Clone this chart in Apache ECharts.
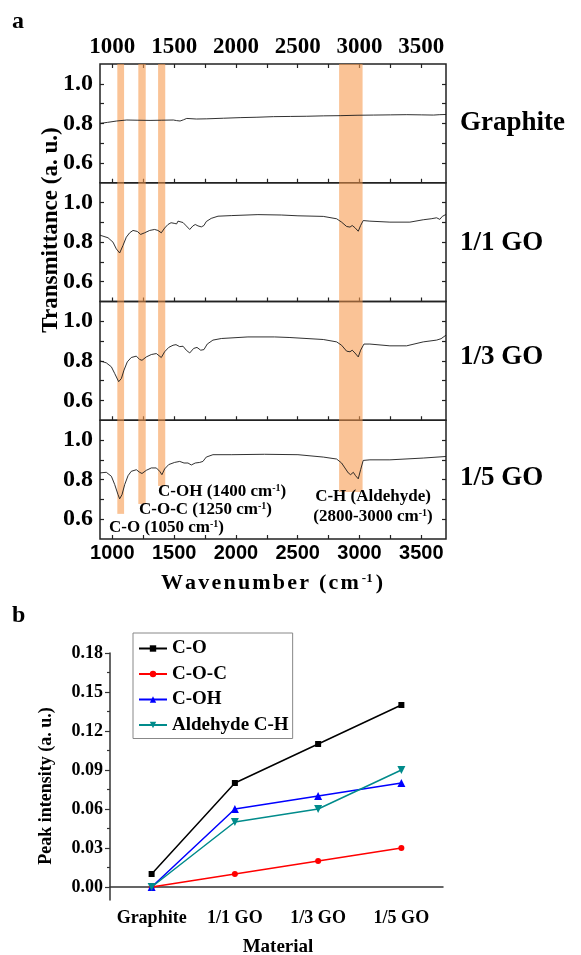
<!DOCTYPE html>
<html>
<head>
<meta charset="utf-8">
<script src="https://cdn.jsdelivr.net/npm/echarts@6/dist/echarts.min.js"></script>
<style>
  html, body { margin: 0; padding: 0; background: #fff; }
  #chart { width: 581px; height: 955px; }
</style>
</head>
<body>
<div id="chart"></div>
<script>
// ---- panel a: FTIR spectra, [wavenumber, transmittance]
const graphiteSpec = [[900,0.800],[960,0.805],[1035,0.812],[1116,0.817],[1200,0.816],[1305,0.815],[1400,0.816],[1494,0.817],[1520,0.814],[1548,0.812],[1575,0.818],[1602,0.825],[1680,0.822],[1764,0.823],[1900,0.826],[2034,0.829],[2170,0.831],[2303,0.834],[2440,0.835],[2573,0.836],[2710,0.838],[2843,0.839],[2980,0.841],[3113,0.842],[3250,0.843],[3383,0.844],[3500,0.843],[3599,0.842],[3650,0.844],[3700,0.845]];
const go11Spec = [[900,0.835],[965,0.822],[1005,0.800],[1032,0.766],[1059,0.745],[1086,0.783],[1113,0.825],[1140,0.847],[1167,0.859],[1202,0.854],[1229,0.839],[1261,0.847],[1302,0.859],[1342,0.864],[1369,0.859],[1396,0.847],[1423,0.871],[1450,0.889],[1475,0.898],[1491,0.904],[1500,0.895],[1510,0.905],[1520,0.892],[1531,0.906],[1545,0.900],[1572,0.899],[1598,0.882],[1626,0.864],[1652,0.882],[1671,0.889],[1693,0.882],[1720,0.877],[1741,0.884],[1760,0.904],[1800,0.920],[1855,0.931],[1962,0.934],[2178,0.939],[2367,0.937],[2502,0.933],[2707,0.930],[2815,0.918],[2855,0.901],[2896,0.879],[2923,0.876],[2941,0.884],[2963,0.873],[2990,0.855],[3009,0.884],[3030,0.909],[3084,0.906],[3246,0.901],[3408,0.901],[3516,0.913],[3580,0.918],[3624,0.923],[3650,0.915],[3670,0.930],[3700,0.940]];
const go13Spec = [[900,0.800],[951,0.790],[992,0.770],[1019,0.736],[1051,0.695],[1073,0.711],[1094,0.753],[1121,0.795],[1153,0.817],[1194,0.824],[1221,0.807],[1240,0.803],[1275,0.820],[1315,0.832],[1356,0.837],[1396,0.817],[1423,0.846],[1456,0.868],[1491,0.879],[1505,0.870],[1515,0.882],[1531,0.885],[1545,0.872],[1560,0.880],[1572,0.874],[1598,0.854],[1626,0.840],[1658,0.863],[1685,0.868],[1715,0.854],[1741,0.857],[1768,0.885],[1814,0.905],[1882,0.913],[2097,0.921],[2313,0.921],[2437,0.918],[2707,0.908],[2815,0.896],[2855,0.879],[2896,0.849],[2923,0.846],[2941,0.854],[2963,0.840],[2990,0.820],[3009,0.854],[3036,0.885],[3084,0.885],[3246,0.876],[3381,0.876],[3516,0.896],[3624,0.905],[3660,0.912],[3700,0.930]];
const go15Spec = [[900,0.834],[951,0.837],[992,0.817],[1019,0.775],[1046,0.724],[1059,0.703],[1078,0.724],[1100,0.775],[1127,0.820],[1153,0.842],[1194,0.850],[1221,0.837],[1240,0.831],[1275,0.847],[1315,0.859],[1356,0.859],[1383,0.842],[1401,0.825],[1423,0.854],[1456,0.876],[1504,0.887],[1545,0.892],[1580,0.884],[1612,0.884],[1639,0.874],[1671,0.884],[1707,0.887],[1733,0.892],[1760,0.914],[1814,0.926],[1962,0.926],[2232,0.928],[2502,0.926],[2707,0.914],[2815,0.904],[2855,0.884],[2882,0.859],[2909,0.834],[2928,0.825],[2950,0.837],[2968,0.820],[2990,0.804],[3009,0.850],[3030,0.897],[3084,0.900],[3246,0.900],[3516,0.909],[3700,0.917]];
const sampleNames = ['Graphite', '1/1 GO', '1/3 GO', '1/5 GO'];

const wnTicks = [1000, 1250, 1500, 1750, 2000, 2250, 2500, 2750, 3000, 3250, 3500];
const wnLabels = [1000, 1500, 2000, 2500, 3000, 3500];
const tTicks = [0.6, 0.7, 0.8, 0.9, 1.0];
const tLabels = [0.6, 0.8, 1.0];

// shaded bands (C-O, C-O-C, C-OH, C-H aldehyde) and where they stop in the last panel
const bandStart = [1040, 1210, 1370, 2835];
const bandEnd = [1095, 1270, 1428, 3025];
const bandBottom = [0.627, 0.677, 0.768, 0.738];

// ---- panel b: peak intensities
const materials = ['Graphite', '1/1 GO', '1/3 GO', '1/5 GO'];
const coPeak = [0.01, 0.08, 0.11, 0.14];
const cocPeak = [0, 0.01, 0.02, 0.03];
const cohPeak = [0, 0.06, 0.07, 0.08];
const choPeak = [0, 0.05, 0.06, 0.09];
const peakTicks = [0, 0.03, 0.06, 0.09, 0.12, 0.15, 0.18];
const peakMinor = [0.015, 0.045, 0.075, 0.105, 0.135, 0.165];

const serif = "'Liberation Serif', 'Times New Roman', serif";
const sans = "'Liberation Sans', Arial, sans-serif";

var myChart = echarts.init(document.getElementById('chart'), null, { renderer: 'canvas' });

const panelTop = 64, panelH = 118.75;
const grids = [], xAxes = [], yAxes = [], series = [];
const specs = [graphiteSpec, go11Spec, go13Spec, go15Spec];

for (let i = 0; i < 4; i++) {
    grids.push({
        left: 100, width: 346, top: panelTop + i * panelH, height: panelH,
        show: true, borderColor: '#222', borderWidth: 1.5, backgroundColor: 'transparent'
    });
    xAxes.push({
        gridIndex: i, type: 'value', min: 900, max: 3700, position: 'bottom',
        axisLine: { show: false },
        axisTick: { inside: true, length: 4, customValues: wnTicks, lineStyle: { color: '#222', width: 1.2 } },
        axisLabel: {
            show: i === 3, customValues: wnLabels, margin: 4, formatter: v => String(v),
            fontFamily: sans, fontWeight: 'bold', fontSize: 20, color: '#000'
        },
        splitLine: { show: false }
    });
    yAxes.push({
        gridIndex: i, type: 'value', min: 0.5, max: 1.1, position: 'left',
        axisLine: { show: false },
        axisTick: { inside: true, length: 4, customValues: tTicks, lineStyle: { color: '#222', width: 1.2 } },
        axisLabel: {
            customValues: tLabels, margin: 7, formatter: v => v.toFixed(1),
            fontFamily: serif, fontWeight: 'bold', fontSize: 24, color: '#000'
        },
        splitLine: { show: false }
    });
    yAxes.push({
        gridIndex: i, type: 'value', min: 0.5, max: 1.1, position: 'right',
        axisLine: { show: false },
        axisTick: { inside: true, length: 4, customValues: tTicks, lineStyle: { color: '#222', width: 1.2 } },
        axisLabel: { show: false },
        splitLine: { show: false }
    });
}
// top wavenumber axis on the first panel
xAxes.push({
    gridIndex: 0, type: 'value', min: 900, max: 3700, position: 'top',
    axisLine: { show: false },
    axisTick: { inside: true, length: 4, customValues: wnTicks, lineStyle: { color: '#222', width: 1.2 } },
    axisLabel: {
        customValues: wnLabels, margin: 5, formatter: v => String(v),
        fontFamily: serif, fontWeight: 'bold', fontSize: 23, color: '#000'
    },
    splitLine: { show: false }
});

for (let i = 0; i < 4; i++) {
    series.push({
        type: 'line', xAxisIndex: i, yAxisIndex: i * 2, data: specs[i],
        showSymbol: false, symbol: 'none', z: 2,
        lineStyle: { color: '#1a1a1a', width: 0.9 }
    });
    const areas = [];
    for (let k = 0; k < bandStart.length; k++) {
        if (i === 3) {
            areas.push([{ xAxis: bandStart[k], yAxis: bandBottom[k] }, { xAxis: bandEnd[k], yAxis: 1.1 }]);
        } else {
            areas.push([{ xAxis: bandStart[k] }, { xAxis: bandEnd[k] }]);
        }
    }
    series.push({
        type: 'line', xAxisIndex: i, yAxisIndex: i * 2, data: [], z: 5, silent: true,
        markArea: {
            silent: true,
            itemStyle: { color: 'rgba(247,155,80,0.6)' },
            data: areas
        }
    });
}

// ---- panel b grid
grids.push({ left: 110, width: 333, top: 653, height: 247 });
xAxes.push({
    gridIndex: 4, type: 'category', data: materials, boundaryGap: true,
    axisLine: { lineStyle: { color: '#333', width: 1.5 } },
    axisTick: { alignWithLabel: true, length: 5, lineStyle: { color: '#333', width: 1.2 } },
    axisLabel: { interval: 0, margin: 9, fontFamily: serif, fontWeight: 'bold', fontSize: 18, color: '#000' }
});
yAxes.push({
    gridIndex: 4, type: 'value', min: -0.01, max: 0.18,
    axisLine: { show: true, lineStyle: { color: '#333', width: 1.5 } },
    axisTick: { show: true, length: 5, customValues: peakTicks, lineStyle: { color: '#333', width: 1.2 } },
    axisLabel: {
        customValues: peakTicks, margin: 7, formatter: v => v.toFixed(2),
        fontFamily: serif, fontWeight: 'bold', fontSize: 18, color: '#000'
    },
    splitLine: { show: false }
});
yAxes.push({
    gridIndex: 4, type: 'value', min: -0.01, max: 0.18, position: 'left',
    axisLine: { show: false },
    axisTick: { show: true, length: 3, customValues: peakMinor, lineStyle: { color: '#333', width: 1.2 } },
    axisLabel: { show: false },
    splitLine: { show: false }
});

const peakSeries = [
    { name: 'C-O', data: coPeak, color: '#000000', symbol: 'rect', size: 6, rot: 0 },
    { name: 'C-O-C', data: cocPeak, color: '#ff0000', symbol: 'circle', size: 6, rot: 0 },
    { name: 'C-OH', data: cohPeak, color: '#0000ff', symbol: 'triangle', size: 8, rot: 0 },
    { name: 'Aldehyde C-H', data: choPeak, color: '#008b8b', symbol: 'triangle', size: 8, rot: 180 }
];
peakSeries.forEach(s => {
    series.push({
        name: s.name, type: 'line', xAxisIndex: 5, yAxisIndex: 8, data: s.data,
        symbol: s.symbol, symbolSize: s.size, symbolRotate: s.rot, showSymbol: true,
        itemStyle: { color: s.color }, lineStyle: { color: s.color, width: 1.5 }, z: 3
    });
});

function supLabel(before, after, size, extra) {
    return {
        text: '{t|' + before + '}{s|-1}{t|' + after + '}',
        rich: {
            t: Object.assign({ fontFamily: serif, fontWeight: 'bold', fontSize: size, fill: '#000' }, extra || {}),
            s: { fontFamily: serif, fontWeight: 'bold', fontSize: Math.round(size * 0.6), fill: '#000', verticalAlign: 'top' }
        }
    };
}

function spaced(str) {
    return str.split('').map(c => '{w|' + (c === ' ' ? '\u00a0' : c) + '}').join('');
}

const graphics = [
    { type: 'text', left: 12, top: 10, style: { text: 'a', font: 'bold 24px ' + serif, fill: '#000' } },
    { type: 'text', left: 12, top: 604, style: { text: 'b', font: 'bold 24px ' + serif, fill: '#000' } },
    {
        type: 'text', x: 51, y: 230, rotation: Math.PI / 2,
        style: { text: 'Transmittance (a. u.)', font: 'bold 23px ' + serif, fill: '#000', align: 'center', verticalAlign: 'middle' }
    },
    {
        type: 'text', x: 272, y: 583,
        style: {
            text: spaced('Wavenumber (cm') + '{s|-1}{w|)}',
            align: 'center', verticalAlign: 'middle',
            rich: {
                w: { fontFamily: serif, fontWeight: 'bold', fontSize: 22, fill: '#000', padding: [0, 1.1, 0, 1.1] },
                s: { fontFamily: serif, fontWeight: 'bold', fontSize: 13, fill: '#000', verticalAlign: 'top', padding: [0, 2, 0, 2] }
            }
        }
    },
    {
        type: 'text', x: 46, y: 786, rotation: Math.PI / 2,
        style: { text: 'Peak intensity (a. u.)', font: 'bold 18px ' + serif, fill: '#000', align: 'center', verticalAlign: 'middle' }
    },
    {
        type: 'text', x: 278, y: 947,
        style: { text: 'Material', font: 'bold 19px ' + serif, fill: '#000', align: 'center', verticalAlign: 'middle' }
    }
];

const sampleY = [123, 243, 357, 478];
sampleNames.forEach((n, i) => {
    graphics.push({
        type: 'text', x: 460, y: sampleY[i],
        style: { text: n, font: 'bold 27px ' + serif, fill: '#000', align: 'left', verticalAlign: 'middle' }
    });
});

// band annotations in the last spectrum panel
const notes = [
    { b: 'C-OH (1400 cm', a: ')', x: 158, y: 492, align: 'left' },
    { b: 'C-O-C (1250 cm', a: ')', x: 139, y: 510, align: 'left' },
    { b: 'C-O (1050 cm', a: ')', x: 109, y: 528, align: 'left' },
    { b: '(2800-3000 cm', a: ')', x: 373, y: 517, align: 'center' }
];
notes.forEach(n => {
    const st = supLabel(n.b, n.a, 17);
    st.align = n.align; st.verticalAlign = 'middle';
    graphics.push({ type: 'text', x: n.x, y: n.y, z: 10, style: st });
});
graphics.push({
    type: 'text', x: 373, y: 497, z: 10,
    style: { text: 'C-H (Aldehyde)', font: 'bold 17px ' + serif, fill: '#000', align: 'center', verticalAlign: 'middle' }
});

option = {
    animation: false,
    backgroundColor: '#fff',
    grid: grids,
    xAxis: xAxes,
    yAxis: yAxes,
    legend: {
        data: peakSeries.map(s => s.name),
        orient: 'vertical', left: 133, top: 633,
        backgroundColor: '#fff', borderColor: '#888', borderWidth: 1,
        padding: [6, 4, 4, 5], itemWidth: 28, itemHeight: 8, itemGap: 6.5,
        textStyle: { fontFamily: serif, fontWeight: 'bold', fontSize: 19, color: '#000' }
    },
    graphic: graphics,
    series: series
};
myChart.setOption(option);
</script>
</body>
</html>
